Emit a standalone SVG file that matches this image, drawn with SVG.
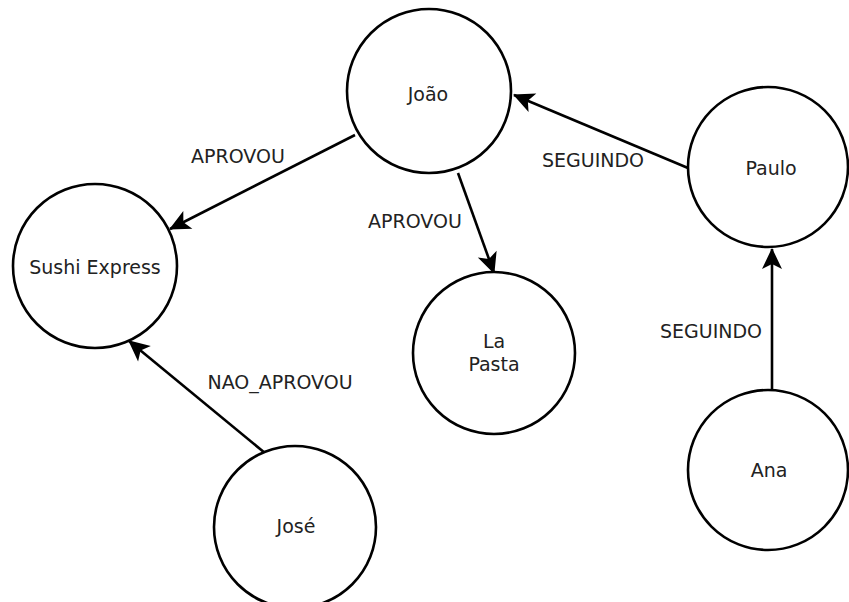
<svg xmlns="http://www.w3.org/2000/svg" width="849" height="602" viewBox="0 0 849 602">
  <style>
    .node { fill: #ffffff; stroke: #000000; stroke-width: 2.6; }
    .label { font-family: "DejaVu Sans", sans-serif; font-size: 19px; fill: #222222; text-anchor: middle; }
    .edge { fill: none; stroke: #000000; stroke-width: 2.6; marker-end: url(#arrow); }
  </style>
  <defs>
    <!-- notched arrowhead, tip at the path end -->
    <marker id="arrow" markerUnits="userSpaceOnUse" markerWidth="24" markerHeight="24" viewBox="-22 -12 24 24" refX="0" refY="0" orient="auto">
      <path d="M1,0 L-20,-10 L-15,0 L-20,10 Z" fill="#000000"/>
    </marker>
  </defs>
  <rect width="849" height="602" fill="#ffffff"/>

  <!-- relationships -->
  <g id="edges">
    <path class="edge" d="M355,135 L170,229"/>
    <path class="edge" d="M458,173 L494,273"/>
    <path class="edge" d="M688,168 L514,95"/>
    <path class="edge" d="M772,390 L772,249"/>
    <path class="edge" d="M265,453 L129,341"/>
    <text class="label" x="238" y="163">APROVOU</text>
    <text class="label" x="415" y="228">APROVOU</text>
    <text class="label" x="593" y="167">SEGUINDO</text>
    <text class="label" x="711" y="338">SEGUINDO</text>
    <text class="label" x="280" y="389">NAO_APROVOU</text>
  </g>

  <g id="joao">
    <circle class="node" cx="429" cy="91" r="82"/>
    <text class="label" x="428" y="101">João</text>
  </g>
  <g id="sushi-express">
    <circle class="node" cx="95" cy="266" r="82"/>
    <text class="label" x="95" y="274">Sushi Express</text>
  </g>
  <g id="paulo">
    <circle class="node" cx="768" cy="167" r="80"/>
    <text class="label" x="771" y="175">Paulo</text>
  </g>
  <g id="la-pasta">
    <circle class="node" cx="494" cy="353" r="81"/>
    <text class="label" x="494" y="348">La</text>
    <text class="label" x="494" y="371">Pasta</text>
  </g>
  <g id="ana">
    <circle class="node" cx="768" cy="470" r="80"/>
    <text class="label" x="769" y="477">Ana</text>
  </g>
  <g id="jose">
    <circle class="node" cx="295" cy="527" r="81"/>
    <text class="label" x="296" y="533">José</text>
  </g>
</svg>
